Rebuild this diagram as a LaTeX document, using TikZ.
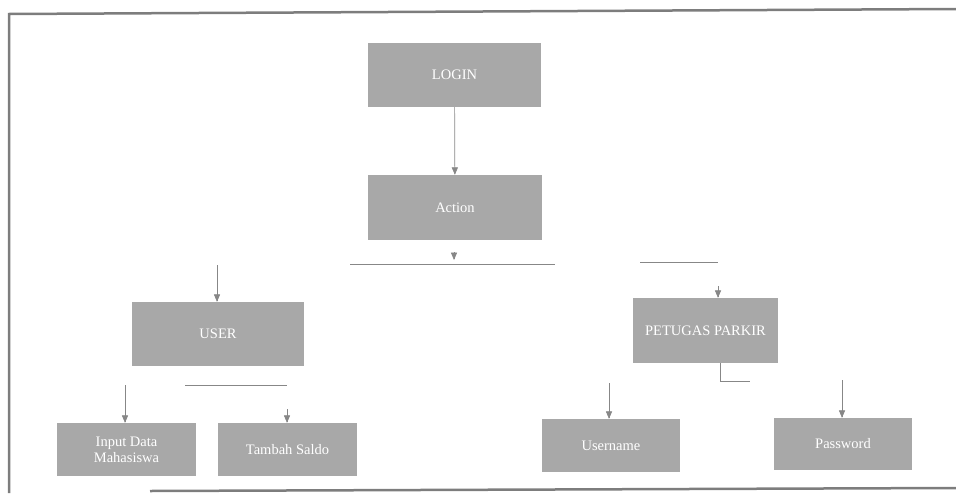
\documentclass[tikz,border=0pt]{standalone}
\usepackage{fontspec}
\setmainfont{Liberation Serif}
\usepackage{tikz}
\usetikzlibrary{arrows}
\usetikzlibrary{positioning}
\definecolor{boxgray}{RGB}{168,168,168}
\definecolor{linegray}{RGB}{135,135,135}
\definecolor{framegray}{RGB}{125,125,125}

\begin{document}
\begin{tikzpicture}[x=1pt, y=-1pt,
    menubox/.style={fill=boxgray, text=white, inner sep=0pt, align=center,
      font=\fontsize{14.5}{16}\selectfont},
    link/.style={draw=linegray, line width=0.7pt},
    arrowlink/.style={link, -triangle 45}]
  \useasboundingbox (0,0) rectangle (956,493);
  % frame of the scan
  \draw[framegray, line width=2.5pt] (9,493) -- (9,14) -- (956,9);
  \draw[framegray, line width=2.5pt] (150,491) -- (956,488);
  % boxes
  \node[menubox, minimum width=173, minimum height=64] (login) at (454.5,75) {LOGIN};
  \node[menubox, minimum width=174, minimum height=65] (action) at (455,207.5) {Action};
  \node[menubox, minimum width=172, minimum height=64] (user) at (218,334) {USER};
  \node[menubox, minimum width=145, minimum height=65] (petugas) at (705.5,330.5) {PETUGAS PARKIR};
  \node[menubox, minimum width=139, minimum height=53] (input) at (126.5,449.5) {Input Data\\Mahasiswa};
  \node[menubox, minimum width=139, minimum height=53] (tambah) at (287.5,449.5) {Tambah Saldo};
  \node[menubox, minimum width=138, minimum height=53] (username) at (611,445.5) {Username};
  \node[menubox, minimum width=138, minimum height=52] (password) at (843,444) {Password};
  % free ends of the connectors
  \coordinate (acttip) at (454,252);
  \coordinate (userfrom) at (217,265);
  \coordinate (petfrom) at (718,286);
  \coordinate (inputfrom) at (125,385);
  \coordinate (tambahfrom) at (287,409);
  \coordinate (userfrom2) at (609,383);
  \coordinate (passfrom) at (842,380);
  \coordinate (petcorner) at (720,381);
  \coordinate (petend) at (750,381);
  % connectors
  \draw[arrowlink] (login) -- (action);
  \draw[arrowlink] (acttip) -- ++(0,8);
  \draw[link] (350,264) -- (555,264);
  \draw[link] (640,262) -- (718,262);
  \draw[arrowlink] (userfrom) -- (userfrom |- user.north);
  \draw[arrowlink] (petfrom) -- (petfrom |- petugas.north);
  \draw[link] (185,385) -- (287,385);
  \draw[arrowlink] (inputfrom) -- (inputfrom |- input.north);
  \draw[arrowlink] (tambahfrom) -- (tambahfrom |- tambah.north);
  \draw[link] (petcorner |- petugas.south) -- (petcorner) -- (petend);
  \draw[arrowlink] (userfrom2) -- (userfrom2 |- username.north);
  \draw[arrowlink] (passfrom) -- (passfrom |- password.north);
\end{tikzpicture}
\end{document}
